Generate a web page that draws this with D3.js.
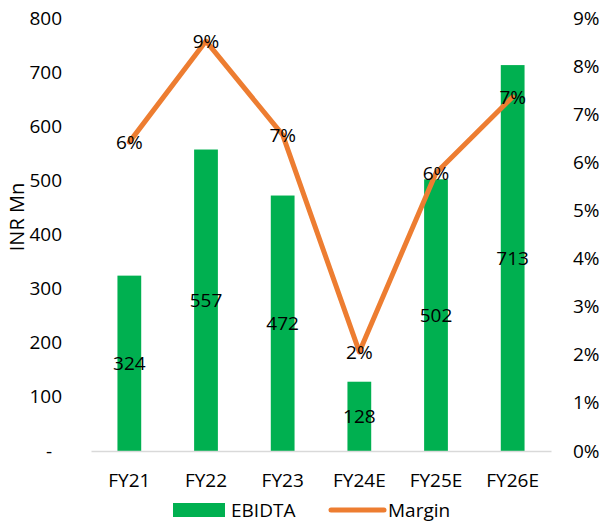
<!DOCTYPE html>
<html lang="en">
<head>
<meta charset="UTF-8">
<title>EBIDTA and Margin</title>
<script src="https://cdn.jsdelivr.net/npm/d3@7"></script>
<style>
    body { margin: 0; background: #fff; }
    svg text { font-family: "Open Sans", sans-serif; fill: #000; }
</style>
</head>
<body>
<div id="chart"></div>
<script>
    // chart data
    const years = ["FY21", "FY22", "FY23", "FY24E", "FY25E", "FY26E"];
    const ebidta = [324, 557, 472, 128, 502, 713];
    const margin = [0.0642, 0.0852, 0.0657, 0.0206, 0.0578, 0.0736];
    const leftTicks = [0, 100, 200, 300, 400, 500, 600, 700, 800];
    const rightTicks = [0, 0.01, 0.02, 0.03, 0.04, 0.05, 0.06, 0.07, 0.08, 0.09];

    const W = 605, H = 523;
    const plot = {left: 91, right: 551, top: 18, bottom: 451};
    const green = "#00B050", orange = "#ED7D31";

    const svg = d3.select("#chart").append("svg")
        .attr("width", W)
        .attr("height", H)
        .style("display", "block");

    const x = d3.scaleBand().domain(years).range([plot.left, plot.right]).padding(0);
    const y = d3.scaleLinear().domain([0, 800]).range([plot.bottom, plot.top]);
    const y2 = d3.scaleLinear().domain([0, 0.09]).range([plot.bottom, plot.top]);
    const barW = x.bandwidth() * 0.31;
    const cx = d => x(d) + x.bandwidth() / 2;

    // bars
    svg.append("g").selectAll("rect")
        .data(years)
        .join("rect")
        .attr("x", (d) => cx(d) - barW / 2)
        .attr("y", (d, i) => y(ebidta[i]))
        .attr("width", barW)
        .attr("height", (d, i) => y(0) - y(ebidta[i]))
        .attr("fill", green);

    // bottom axis line + category labels
    const xAxis = svg.append("g")
        .attr("transform", `translate(0,${plot.bottom})`)
        .call(d3.axisBottom(x).tickSize(0).tickPadding(23));
    xAxis.select(".domain").attr("stroke", "#D9D9D9").attr("stroke-width", 1.3);
    xAxis.selectAll("text").style("font-size", "19px").style("font-family", "Open Sans, sans-serif");

    // left axis
    const yAxis = svg.append("g")
        .attr("transform", `translate(${plot.left},0)`)
        .call(d3.axisLeft(y).tickValues(leftTicks).tickSize(0).tickPadding(29)
            .tickFormat(d => d === 0 ? "-" : d));
    yAxis.select(".domain").remove();
    yAxis.selectAll("text").style("font-size", "19px").style("font-family", "Open Sans, sans-serif")
        .attr("dx", d => d === 0 ? -10 : 0);

    // right axis
    const y2Axis = svg.append("g")
        .attr("transform", `translate(${plot.right},0)`)
        .call(d3.axisRight(y2).tickValues(rightTicks).tickSize(0).tickPadding(22)
            .tickFormat(d3.format(".0%")));
    y2Axis.select(".domain").remove();
    y2Axis.selectAll("text").style("font-size", "19px").style("font-family", "Open Sans, sans-serif");

    // axis title
    svg.append("text")
        .attr("transform", `translate(24,217) rotate(-90)`)
        .attr("text-anchor", "middle")
        .style("font-size", "20px")
        .text("INR Mn");

    // margin line
    const line = d3.line()
        .x((d, i) => cx(years[i]))
        .y(d => y2(d));
    svg.append("path")
        .datum(margin)
        .attr("d", line)
        .attr("fill", "none")
        .attr("stroke", orange)
        .attr("stroke-width", 5)
        .attr("stroke-linejoin", "round")
        .attr("stroke-linecap", "round");

    // bar labels (centred in bar)
    svg.append("g").selectAll("text")
        .data(years)
        .join("text")
        .attr("x", d => cx(d))
        .attr("y", (d, i) => (y(ebidta[i]) + y(0)) / 2)
        .attr("dy", "0.35em")
        .attr("text-anchor", "middle")
        .style("font-size", "19px")
        .text((d, i) => ebidta[i]);

    // margin labels (centred on point)
    svg.append("g").selectAll("text")
        .data(years)
        .join("text")
        .attr("x", d => cx(d))
        .attr("y", (d, i) => y2(margin[i]))
        .attr("dy", "0.35em")
        .attr("text-anchor", "middle")
        .style("font-size", "19px")
        .text((d, i) => d3.format(".0%")(margin[i]));

    // legend
    const lg = svg.append("g").attr("transform", "translate(0,510)");
    lg.append("rect").attr("x", 173).attr("y", -7).attr("width", 52).attr("height", 14).attr("fill", green);
    lg.append("text").attr("x", 231).attr("dy", "0.35em").style("font-size", "19px").text("EBIDTA");
    lg.append("line").attr("x1", 331).attr("x2", 384).attr("y1", 0).attr("y2", 0)
        .attr("stroke", orange).attr("stroke-width", 5).attr("stroke-linecap", "round");
    lg.append("text").attr("x", 388).attr("dy", "0.35em").style("font-size", "19px").text("Margin");
</script>
</body>
</html>
